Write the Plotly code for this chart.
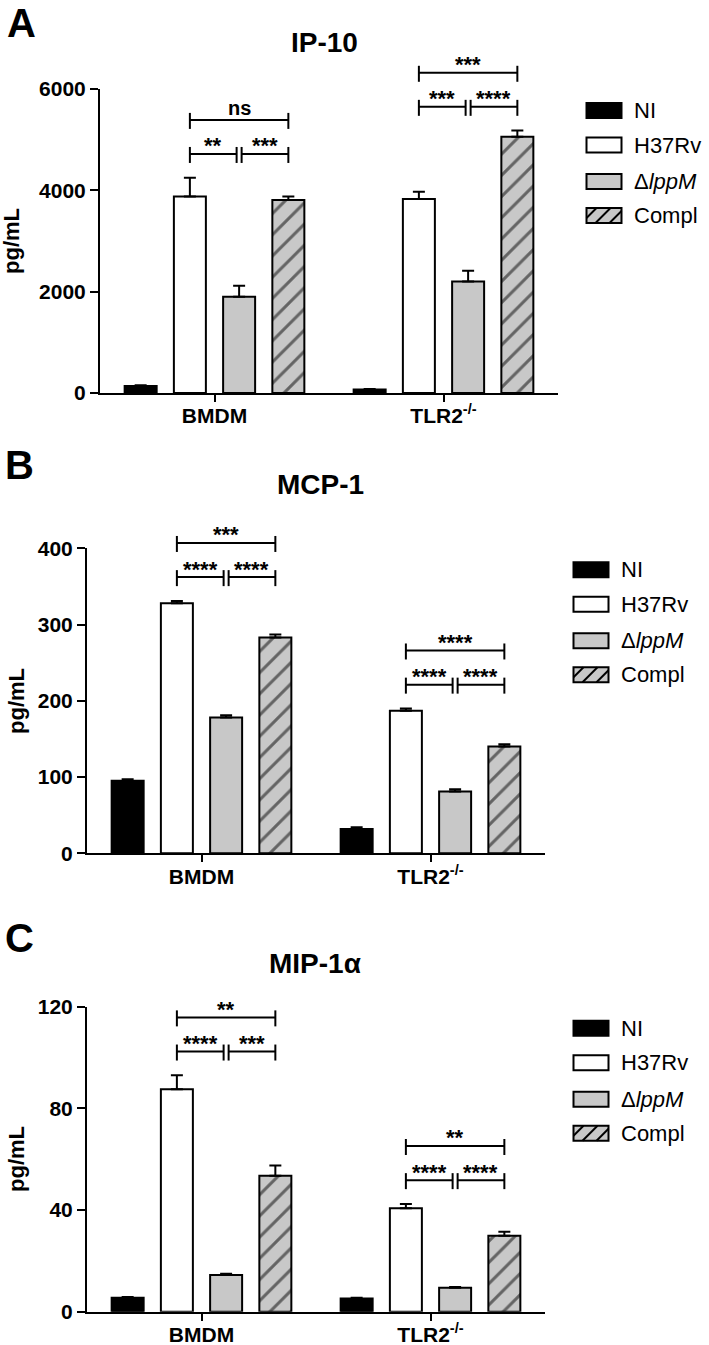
import plotly.graph_objects as go

W, H = 709, 1345

# ---------------- data ----------------
groups = ["BMDM", "TLR2<sup>-/-</sup>"]
series = ["NI", "H37Rv", "ΔlppM", "Compl"]
series_label = ["NI", "H37Rv", "Δ<i>lppM</i>", "Compl"]

panel_letters = ["A", "B", "C"]
panel_titles = ["IP-10", "MCP-1", "MIP-1α"]
y_max = [6000, 400, 120]
y_dtick = [2000, 100, 40]

# means per series (NI, H37Rv, ΔlppM, Compl), each [BMDM, TLR2-/-]
ip10_mean = [[140, 70], [3880, 3830], [1900, 2200], [3810, 5060]]
ip10_sem = [[15, 10], [370, 140], [215, 215], [70, 120]]
mcp1_mean = [[95, 32], [328, 187], [178, 81], [283, 140]]
mcp1_sem = [[2, 2], [3, 3], [3, 3], [4, 3]]
mip1a_mean = [[5.5, 5.2], [87.5, 40.7], [14.4, 9.4], [53.5, 29.9]]
mip1a_sem = [[0.3, 0.3], [5.5, 1.7], [0.5, 0.3], [4.0, 1.6]]

# significance per group: [H37Rv vs ΔlppM, ΔlppM vs Compl, H37Rv vs Compl]
ip10_sig = [["**", "***", "ns"], ["***", "****", "***"]]
mcp1_sig = [["****", "****", "***"], ["****", "****", "****"]]
mip1a_sig = [["****", "***", "**"], ["****", "****", "**"]]

means = [ip10_mean, mcp1_mean, mip1a_mean]
sems = [ip10_sem, mcp1_sem, mip1a_sem]
sigs = [ip10_sig, mcp1_sig, mip1a_sig]

# ---------------- layout geometry (page pixels) ----------------
plot_left = [100, 87, 87]
plot_right = [558, 545, 545]
plot_top = [89, 548.3, 1006.7]
plot_bottom = [393, 853.3, 1311.7]
title_px = [(324, 42.5), (320, 484), (315, 964)]
letter_top_px = [(21, 0), (19, 442), (19, 915)]
ytitle_px = [(12, 241), (16, 701), (16, 1159)]
legend_dy = [21.5, 56, 92.5, 126.5]

fill_colors = ["#000000", "#ffffff", "#c8c8c8", "#c8c8c8"]
pattern_shapes = ["", "", "", "/"]
BARGAP = 0.14
BARGROUPGAP = 0.35

FONT = "Liberation Sans, Arial, sans-serif"


def px_x(px):
    return px / W


def px_y(py):
    return 1 - py / H


fig = go.Figure()
shapes = []
annotations = []

for p in range(3):
    sfx = "" if p == 0 else str(p + 1)
    xa, ya = "x" + sfx, "y" + sfx
    for i, name in enumerate(series):
        fig.add_trace(go.Bar(
            x=groups, y=means[p][i], name=name, xaxis=xa, yaxis=ya,
            showlegend=False,
            marker=dict(
                color=fill_colors[i],
                line=dict(color="black", width=2),
                pattern=dict(shape=pattern_shapes[i], fgcolor="black",
                             bgcolor=fill_colors[i], size=15, solidity=0.2),
            ),
            error_y=dict(type="data", array=sems[p][i], arrayminus=[0, 0],
                         symmetric=False, color="black", thickness=2, width=6),
        ))

    L, R, T, B = plot_left[p], plot_right[p], plot_top[p], plot_bottom[p]
    fig.update_layout(**{
        "xaxis" + sfx: dict(
            domain=[px_x(L), px_x(R)], anchor=ya, range=[-0.5, 1.5],
            showline=True, linecolor="black", linewidth=2, showgrid=False,
            ticks="outside", ticklen=7, tickwidth=2, tickcolor="black",
            ticklabelstandoff=-4,
            tickfont=dict(family=FONT, size=21, color="black", weight="bold"),
            fixedrange=True, automargin=False,
        ),
        "yaxis" + sfx: dict(
            domain=[px_y(B), px_y(T)], anchor=xa, range=[0, y_max[p]],
            tickvals=list(range(0, y_max[p] + 1, y_dtick[p])),
            showline=True, linecolor="black", linewidth=2, showgrid=False,
            zeroline=False, ticks="outside", ticklen=8, tickwidth=2,
            tickcolor="black",
            tickfont=dict(family=FONT, size=21, color="black", weight="bold"),
            fixedrange=True, automargin=False,
        ),
    })

    def dx(cat):
        return L + (cat + 0.5) / 2 * (R - L)

    def dy(v):
        return B - v / y_max[p] * (B - T)

    slot = (1 - BARGAP) / 4
    # significance brackets
    for g in range(2):
        cx = [dx(g + (i - 1.5) * slot) for i in range(4)]
        base = max(means[p][i][g] + sems[p][i][g] for i in (1, 2, 3))
        low = dy(base + 0.078 * y_max[p])
        up = dy(base + 0.19 * y_max[p])
        segs = [
            (cx[1], cx[2] - 2.5, low, sigs[p][g][0]),
            (cx[2] + 2.5, cx[3], low, sigs[p][g][1]),
            (cx[1], cx[3], up, sigs[p][g][2]),
        ]
        for x0, x1, yy, lab in segs:
            shapes.append(dict(type="line", xref="paper", yref="paper",
                               x0=px_x(x0), x1=px_x(x1), y0=px_y(yy), y1=px_y(yy),
                               line=dict(color="black", width=2)))
            for xe in (x0, x1):
                shapes.append(dict(type="line", xref="paper", yref="paper",
                                   x0=px_x(xe), x1=px_x(xe),
                                   y0=px_y(yy - 7), y1=px_y(yy + 9),
                                   line=dict(color="black", width=2)))
            off = 12 if lab == "ns" else 8
            annotations.append(dict(
                xref="paper", yref="paper", x=px_x((x0 + x1) / 2),
                y=px_y(yy - off), text=lab, showarrow=False,
                xanchor="center", yanchor="middle",
                font=dict(family=FONT, size=20 if lab == "ns" else 22,
                          color="black", weight="bold")))

    # title, panel letter, y-axis title
    annotations.append(dict(xref="paper", yref="paper", x=px_x(title_px[p][0]),
                            y=px_y(title_px[p][1]), text=panel_titles[p],
                            showarrow=False, xanchor="center", yanchor="middle",
                            font=dict(family=FONT, size=28, color="black", weight="bold")))
    annotations.append(dict(xref="paper", yref="paper", x=px_x(letter_top_px[p][0]),
                            y=px_y(letter_top_px[p][1]), text=panel_letters[p],
                            showarrow=False, xanchor="center", yanchor="top",
                            borderpad=0,
                            font=dict(family=FONT, size=40, color="black", weight="bold")))
    annotations.append(dict(xref="paper", yref="paper", x=px_x(ytitle_px[p][0]),
                            y=px_y(ytitle_px[p][1]), text="pg/mL", textangle=-90,
                            showarrow=False, xanchor="center", yanchor="middle",
                            font=dict(family=FONT, size=22, color="black", weight="bold")))

    # legend (drawn manually to match the wide swatches)
    sx0 = R + 28.5
    sx1 = sx0 + 35
    for i in range(4):
        cy = T + legend_dy[i]
        y0, y1 = cy - 7.5, cy + 7.5
        shapes.append(dict(type="rect", xref="paper", yref="paper",
                           x0=px_x(sx0), x1=px_x(sx1), y0=px_y(y1), y1=px_y(y0),
                           fillcolor=fill_colors[i],
                           line=dict(color="black", width=2)))
        if pattern_shapes[i] == "/":
            h = y1 - y0
            for b in (sx0 - 5, sx0 + 9, sx0 + 23):
                t0 = max(0, sx0 - b)
                t1 = min(h, sx1 - b)
                if t1 > t0:
                    shapes.append(dict(type="line", xref="paper", yref="paper",
                                       x0=px_x(b + t0), y0=px_y(y1 - t0),
                                       x1=px_x(b + t1), y1=px_y(y1 - t1),
                                       line=dict(color="black", width=2)))
        annotations.append(dict(xref="paper", yref="paper", x=px_x(sx1 + 10),
                                y=px_y(cy), text=series_label[i], showarrow=False,
                                xanchor="left", yanchor="middle",
                                font=dict(family=FONT, size=22, color="black")))

fig.update_layout(
    width=W, height=H, margin=dict(l=0, r=0, t=0, b=0, pad=0),
    paper_bgcolor="white", plot_bgcolor="white",
    barmode="group", bargap=BARGAP, bargroupgap=BARGROUPGAP,
    showlegend=False, shapes=shapes, annotations=annotations,
)

# remove the default 8px page margin so the figure sits at the window origin
fig.write_html(
    "out.html",
    config={"displayModeBar": False},
    post_script="document.body.style.margin='0';document.body.style.overflow='hidden';",
)
